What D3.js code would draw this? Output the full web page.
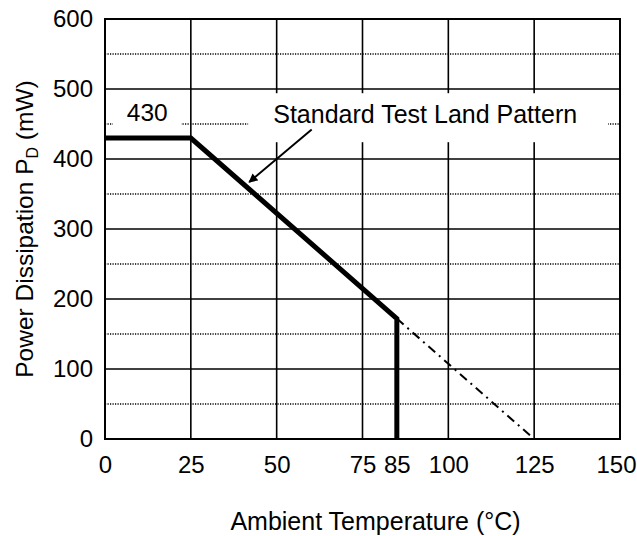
<!DOCTYPE html>
<html>
<head>
<meta charset="utf-8">
<script src="https://cdn.jsdelivr.net/npm/d3@7"></script>
<style>
  body { margin: 0; background: #fff; }
  text { font-family: "Liberation Sans", Arial, sans-serif; fill: #000; }
</style>
</head>
<body>
<script>
// derating curve (standard test land pattern)
const tempPoints = [0, 25, 85, 85];
const powerPoints = [430, 430, 172, 0];
// extension of the derating slope past the max ambient temperature
const extTemp = [85, 125];
const extPower = [172, 0];

const xTickLabels = [0, 25, 50, 75, 85, 100, 125, 150];
const xGrid = [0, 25, 50, 75, 100, 125, 150];
const yTickLabels = [0, 100, 200, 300, 400, 500, 600];
const yMinorGrid = [50, 150, 250, 350, 450, 550];

const width = 637, height = 536;
const plot = { left: 105, top: 19, right: 620, bottom: 439 };

const svg = d3.select('body').append('svg')
    .attr('width', width)
    .attr('height', height);

const x = d3.scaleLinear().domain([0, 150]).range([plot.left, plot.right]);
const y = d3.scaleLinear().domain([0, 600]).range([plot.bottom, plot.top]);

// dotted half-step grid
svg.append('g').selectAll('line')
    .data(yMinorGrid)
    .enter().append('line')
    .attr('x1', plot.left).attr('x2', plot.right)
    .attr('y1', d => y(d)).attr('y2', d => y(d))
    .style('stroke', '#000')
    .style('stroke-width', 1.4)
    .style('stroke-dasharray', '1.2,1.3');

// solid grid
svg.append('g').selectAll('line')
    .data(yTickLabels)
    .enter().append('line')
    .attr('x1', plot.left).attr('x2', plot.right)
    .attr('y1', d => y(d)).attr('y2', d => y(d))
    .style('stroke', '#000')
    .style('stroke-width', 1.6);

svg.append('g').selectAll('line')
    .data(xGrid)
    .enter().append('line')
    .attr('x1', d => x(d)).attr('x2', d => x(d))
    .attr('y1', plot.top).attr('y2', plot.bottom)
    .style('stroke', '#000')
    .style('stroke-width', 1.6);

// white boxes behind the labels
svg.append('rect')
    .attr('x', x(2.3)).attr('y', y(495))
    .attr('width', x(22.2) - x(2.3)).attr('height', y(434) - y(495))
    .style('fill', '#fff');
svg.append('rect')
    .attr('x', x(41.7)).attr('y', y(494))
    .attr('width', x(146.5) - x(41.7)).attr('height', y(424) - y(494))
    .style('fill', '#fff');

svg.append('text')
    .attr('x', x(12.3)).attr('y', y(454))
    .attr('text-anchor', 'middle')
    .style('font-size', '24.5px')
    .text('430');

svg.append('text')
    .attr('x', x(49)).attr('y', y(451))
    .style('font-size', '25px')
    .text('Standard Test Land Pattern');

// frame
svg.append('rect')
    .attr('x', plot.left).attr('y', plot.top)
    .attr('width', plot.right - plot.left).attr('height', plot.bottom - plot.top)
    .style('fill', 'none')
    .style('stroke', '#000')
    .style('stroke-width', 2);

const line = d3.line()
    .x(d => x(d[0]))
    .y(d => y(d[1]));

svg.append('path')
    .datum(extTemp.map((t, i) => [t, extPower[i]]))
    .attr('d', line)
    .style('fill', 'none')
    .style('stroke', '#000')
    .style('stroke-width', 2)
    .style('stroke-dasharray', '9,5,2,5');

svg.append('path')
    .datum(tempPoints.map((t, i) => [t, powerPoints[i]]))
    .attr('d', line)
    .style('fill', 'none')
    .style('stroke', '#000')
    .style('stroke-width', 5)
    .style('stroke-linejoin', 'miter');

// arrow from the label to the curve
svg.append('defs').append('marker')
    .attr('id', 'arrow')
    .attr('viewBox', '0 0 10 10')
    .attr('refX', 9).attr('refY', 5)
    .attr('markerWidth', 10).attr('markerHeight', 9)
    .attr('markerUnits', 'userSpaceOnUse')
    .attr('orient', 'auto')
  .append('path')
    .attr('d', 'M0,0 L10,5 L0,10 z')
    .style('fill', '#000');

svg.append('line')
    .attr('x1', x(60.2)).attr('y1', y(442))
    .attr('x2', x(42)).attr('y2', y(367))
    .style('stroke', '#000')
    .style('stroke-width', 2)
    .attr('marker-end', 'url(#arrow)');

// axes
const xAxis = svg.append('g')
    .attr('transform', `translate(0, ${plot.bottom})`)
    .call(d3.axisBottom(x).tickValues(xTickLabels).tickSize(0).tickPadding(17));
xAxis.select('.domain').remove();
xAxis.selectAll('text').style('font-size', '24px').style('font-family', '"Liberation Sans", Arial, sans-serif');
// last label is pulled in a little so it stays on the page
xAxis.selectAll('text').filter(d => d === 150).attr('dx', -4);

const yAxis = svg.append('g')
    .attr('transform', `translate(${plot.left}, 0)`)
    .call(d3.axisLeft(y).tickValues(yTickLabels).tickSize(0).tickPadding(12));
yAxis.select('.domain').remove();
yAxis.selectAll('text').style('font-size', '24px').style('font-family', '"Liberation Sans", Arial, sans-serif');

svg.append('text')
    .attr('x', (plot.left + plot.right) / 2 + 13)
    .attr('y', 530)
    .attr('text-anchor', 'middle')
    .style('font-size', '25px')
    .text('Ambient Temperature (\u00B0C)');

const yTitle = svg.append('text')
    .attr('transform', `translate(33, ${(plot.top + plot.bottom) / 2}) rotate(-90)`)
    .attr('text-anchor', 'middle')
    .style('font-size', '24.5px');
yTitle.append('tspan').text('Power Dissipation P');
yTitle.append('tspan').attr('dy', 5).style('font-size', '16px').text('D');
yTitle.append('tspan').attr('dy', -5).text(' (mW)');
</script>
</body>
</html>
